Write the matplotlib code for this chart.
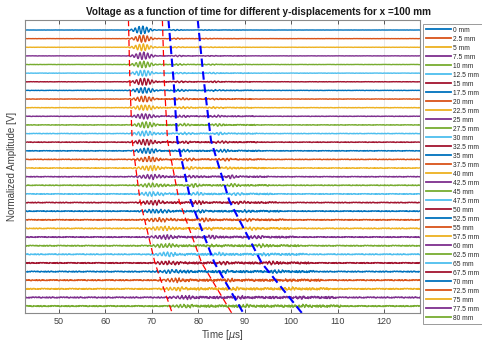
import numpy as np
import matplotlib
matplotlib.use("Agg")
import matplotlib.pyplot as plt

plt.rcParams['font.family'] = ['Liberation Sans', 'DejaVu Sans']

# ---------------- data ----------------
displacements = [0, 2.5, 5, 7.5, 10, 12.5, 15, 17.5, 20, 22.5, 25, 27.5, 30, 32.5, 35,
                 37.5, 40, 42.5, 45, 47.5, 50, 52.5, 55, 57.5, 60, 62.5, 65, 67.5, 70,
                 72.5, 75, 77.5, 80]
labels = [f"{d:g} mm" for d in displacements]

# first wave-packet centre [us] and amplitude (in trace spacings)
t1 = [67.9, 68.0, 68.0, 68.1, 68.1, 68.2, 68.2, 68.3, 68.4, 68.4, 68.5, 68.6, 68.6,
      68.8, 69.0, 69.2, 69.5, 69.7, 70.0, 70.2, 70.5, 70.9, 71.4, 71.8, 72.3, 72.7,
      73.2, 73.6, 74.2, 74.9, 75.5, 76.2, 76.8]
a1 = [0.45, 0.42, 0.40, 0.42, 0.38, 0.36, 0.40, 0.35, 0.33, 0.32, 0.30, 0.32, 0.30,
      0.33, 0.30, 0.28, 0.28, 0.26, 0.24, 0.25, 0.25, 0.23, 0.22, 0.22, 0.21, 0.20,
      0.21, 0.19, 0.19, 0.17, 0.17, 0.15, 0.13]
# second packet (near blue line 1)
t2 = [75.3, 75.4, 75.6, 75.8, 75.9, 76.0, 76.2, 76.3, 76.5, 76.6, 76.7, 76.8, 76.9,
      77.2, 77.5, 77.9, 78.3, 78.7, 79.2, 79.6, 80.0, 80.7, 81.5, 82.2, 82.9, 83.6,
      84.3, 85.2, 86.1, 87.1, 88.2, 89.3, 90.3]
a2 = [0.05, 0.06, 0.06, 0.07, 0.07, 0.08, 0.10, 0.10, 0.11, 0.12, 0.12, 0.13, 0.14,
      0.15, 0.15, 0.16, 0.16, 0.16, 0.17, 0.16, 0.16, 0.15, 0.16, 0.15, 0.15, 0.14,
      0.15, 0.14, 0.13, 0.13, 0.12, 0.12, 0.11]
# third packet (near blue line 2)
t3 = [82.1, 82.3, 82.5, 82.7, 82.9, 83.1, 83.3, 83.5, 83.7, 83.9, 84.1, 84.4, 84.6,
      84.9, 85.4, 86.0, 86.6, 87.1, 87.7, 88.3, 88.9, 89.8, 90.8, 91.8, 92.8, 93.7,
      94.7, 95.9, 97.1, 98.6, 100.1, 101.6, 103.1]
a3 = [0.02, 0.03, 0.03, 0.04, 0.05, 0.06, 0.07, 0.08, 0.09, 0.10, 0.10, 0.11, 0.12,
      0.12, 0.13, 0.14, 0.14, 0.15, 0.15, 0.14, 0.15, 0.14, 0.14, 0.13, 0.13, 0.13,
      0.12, 0.12, 0.12, 0.11, 0.11, 0.10, 0.10]
# baseline noise level (in trace spacings)
noise_level = [0.01, 0.012, 0.014, 0.016, 0.018, 0.02, 0.022, 0.024, 0.026, 0.028,
               0.03, 0.032, 0.034, 0.036, 0.038, 0.04, 0.042, 0.044, 0.046, 0.048,
               0.05, 0.052, 0.054, 0.056, 0.058, 0.06, 0.062, 0.064, 0.066, 0.068,
               0.07, 0.072, 0.074]
noise_pattern = [0.3, -0.5, 0.8, -0.2, -0.9, 0.4, 0.1, -0.6, 0.7, -0.3, 0.5, -0.8, 0.2,
                 0.9, -0.4, -0.1, 0.6, -0.7, 0.3, -0.2, 0.8, -0.5, -0.9, 0.4, 0.0, 0.7,
                 -0.3, 0.5, -0.6, 0.2, -0.8, 0.9, -0.1, 0.4, -0.5, 0.6, -0.2, -0.7, 0.3,
                 0.8, -0.4, 0.1, -0.9, 0.5, -0.3, 0.7, 0.2, -0.6, 0.4, -0.1, 0.9, -0.8,
                 0.3, -0.5, 0.6, -0.2, 0.1, -0.7, 0.8, -0.4]

# guide curves: displacement [mm] -> time [us]
curve_d = [-2.9, 14.5, 32.0, 49.5, 67.5, 82.0]
red1_t = [65.0, 65.3, 65.8, 67.5, 70.7, 74.4]
red2_t = [72.3, 72.7, 73.4, 75.9, 80.75, 87.2]
blue1_t = [73.6, 74.7, 75.5, 78.4, 83.5, 89.7]
blue2_t = [79.9, 81.2, 82.75, 86.7, 93.65, 102.3]

colors = ['#0072BD', '#D95319', '#EDB120', '#7E2F8E', '#77AC30', '#4DBEEE', '#A2142F']

# ---------------- figure ----------------
fig = plt.figure(figsize=(4.82, 3.45), dpi=100)
ax = fig.add_axes([25/482, 1-313/345, 395/482, 293/345])

t = np.arange(42.0, 128.0, 0.1)
spacing = 2.5
freq = 1.2
npat = np.array(noise_pattern)

def packet(tc, amp, sig):
    return amp * np.exp(-0.5*((t-tc)/sig)**2) * np.sin(2*np.pi*freq*(t-tc))

for i, d in enumerate(displacements):
    idx = (np.arange(t.size)*7 + i*13) % npat.size
    nz = noise_level[i] * npat[idx]
    coda = np.where((t > t1[i]) & (t < t3[i] + 8), 2.0, 1.0)
    s = (packet(t1[i], a1[i], 1.3 + 0.03*i)
         + packet(t2[i], a2[i], 1.0)
         + packet(t3[i], a3[i], 1.0)
         + nz*coda)
    ax.plot(t, -d + spacing*s, color=colors[i % 7], lw=1.0, label=labels[i])

cd = -np.array(curve_d)
ax.plot(red1_t, cd, color='#FF0000', ls=(0, (5, 3)), lw=0.9)
ax.plot(red2_t, cd, color='#FF0000', ls=(0, (5, 3)), lw=0.9)
ax.plot(blue1_t, cd, color='#0000FF', ls=(0, (4, 2.2)), lw=1.5)
ax.plot(blue2_t, cd, color='#0000FF', ls=(0, (4, 2.2)), lw=1.5)

ax.set_xlim(42.75, 127.7)
ax.set_ylim(-82.0, 2.9)
ax.set_xticks([50, 60, 70, 80, 90, 100, 110, 120])
ax.set_yticks([])
ax.tick_params(axis='x', direction='in', top=True, length=3, width=0.6,
               labelsize=6.5, colors='#404040', pad=3)
ax.grid(axis='x', color='#e6e6e6', lw=0.6)
ax.set_axisbelow(True)
for sp in ax.spines.values():
    sp.set_color('#8a8a8a')
    sp.set_linewidth(0.8)

ax.set_xlabel('Time [$\\mu$s]', fontsize=7, color='#404040', labelpad=1)
ax.set_ylabel('Normalized Amplitude [V]', fontsize=7, color='#404040', labelpad=6)
fig.text(258/482, 1-12/345, 'Voltage as a function of time for different y-displacements for x =100 mm',
         ha='center', va='center', fontsize=7.2, fontweight='bold', color='#1a1a1a')

leg = fig.legend(loc='upper left', bbox_to_anchor=(423/482, 1-24/345), fontsize=4.8,
                 frameon=True, fancybox=False, edgecolor='#8a8a8a', framealpha=1,
                 handlelength=3.8, handletextpad=0.3, labelspacing=0.3,
                 borderpad=0.4, borderaxespad=0)
leg.get_frame().set_linewidth(0.6)
for line in leg.get_lines():
    line.set_linewidth(1.3)
for txt in leg.get_texts():
    txt.set_color('#262626')

fig.savefig('out.png', dpi=100)
